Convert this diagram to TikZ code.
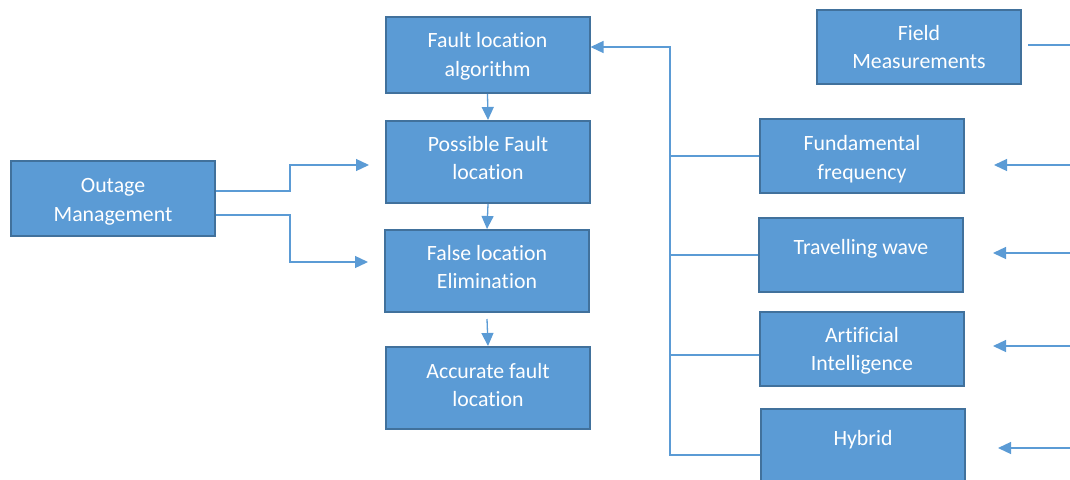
\documentclass[tikz,border=0pt]{standalone}
\usepackage{fontspec}
\setmainfont{Carlito}[Ligatures={NoCommon}]
\usetikzlibrary{arrows.meta,calc}
\definecolor{boxfill}{HTML}{5B9BD5}
\definecolor{boxline}{HTML}{41719C}
\definecolor{connc}{HTML}{5B9BD5}
\begin{document}
\begin{tikzpicture}[x=1pt,y=-1pt,
  box/.style={draw=boxline,fill=boxfill,line width=2pt,minimum width=204pt,
    inner sep=0pt},
  txt/.style={inner sep=0pt,align=center,text=white,
    font=\fontsize{21.8}{28.5}\selectfont},
  conn/.style={draw=connc,line width=1.3pt},
  arr/.style={conn,-{Triangle[length=13pt,width=12pt]}}]
\useasboundingbox (0,0) rectangle (1070,479);
% left column
\node[box,minimum height=76pt] (algo) at (487.5,55) {};
\node[box,minimum height=82pt] (pfl) at (488,162) {};
\node[box,minimum height=82pt] (fle) at (487,271) {};
\node[box,minimum height=82pt] (acc) at (488,388) {};
\node[box,minimum height=75pt] (out) at (113,198.5) {};
% right column
\node[box,minimum height=74pt] (field) at (919,47) {};
\node[box,minimum height=74pt] (fund) at (862,156) {};
\node[box,minimum height=74pt] (trav) at (861,255) {};
\node[box,minimum height=74pt] (ai) at (862,349) {};
\node[box,minimum height=74pt] (hyb) at (863,446) {};
% texts
\node[txt] (algoT) at ([yshift=-1.5pt]algo.center) {Fault location\\algorithm};
\node[txt] (pflT) at ([yshift=4pt]pfl.center) {Possible Fault\\location};
\node[txt] (fleT) at ([yshift=4pt]fle.center) {False location\\Elimination};
\node[txt] (accT) at ([yshift=3pt]acc.center) {Accurate fault\\location};
\node[txt] (outT) at ([yshift=-3.5pt]out.center) {Outage\\Management};
\node[txt] (fieldT) at (field.center) {Field\\Measurements};
\node[txt] (fundT) at ([yshift=-3pt]fund.center) {Fundamental\\frequency};
\node[txt] (travT) at ([yshift=6pt]trav.center) {Travelling wave};
\node[txt] (aiT) at ([yshift=-2pt]ai.center) {Artificial\\Intelligence};
\node[txt] (hybT) at ([yshift=6pt]hyb.center) {Hybrid};
% vertical flow
\draw[arr] (algo.south) -- (pfl.north);
\draw[arr] (pfl.south) -- (fle.north);
\draw[arr] ([yshift=-6pt]fle.south) -- (acc.north);
% outage connectors
\draw[arr] ([yshift=7.5pt]out.east) -- ++(74,0) |- ([xshift=-16pt,yshift=-3pt]pfl.west);
\draw[arr] ([yshift=-16.5pt]out.east) -- ++(74,0) |- ([xshift=-16pt,yshift=9pt]fle.west);
% trunk on the left of the method boxes
\coordinate (tA) at (670,156);
\draw[arr] (fund.west) -- (tA) |- ([yshift=8pt]algo.east);
\draw[conn] (tA) |- ([yshift=-9pt]hyb.west);
\draw[conn] (trav.west) -- ++(-89,0);
\draw[conn] ([yshift=-6pt]ai.west) -- ++(-90,0);
% right-edge inputs
\coordinate (fR) at (1070,45);
\draw[conn] ([xshift=6pt,yshift=2pt]field.east) -- (fR);
\coordinate (r1) at (1070,165);
\coordinate (r2) at (1070,253);
\coordinate (r3) at (1070,346);
\coordinate (r4) at (1070,448);
\draw[arr] (r1) -- ([xshift=29pt,yshift=-9pt]fund.east);
\draw[arr] (r2) -- ([xshift=29pt,yshift=2pt]trav.east);
\draw[arr] (r3) -- ([xshift=28pt,yshift=3pt]ai.east);
\draw[arr] (r4) -- ([xshift=32pt,yshift=-2pt]hyb.east);
\end{tikzpicture}
\end{document}
